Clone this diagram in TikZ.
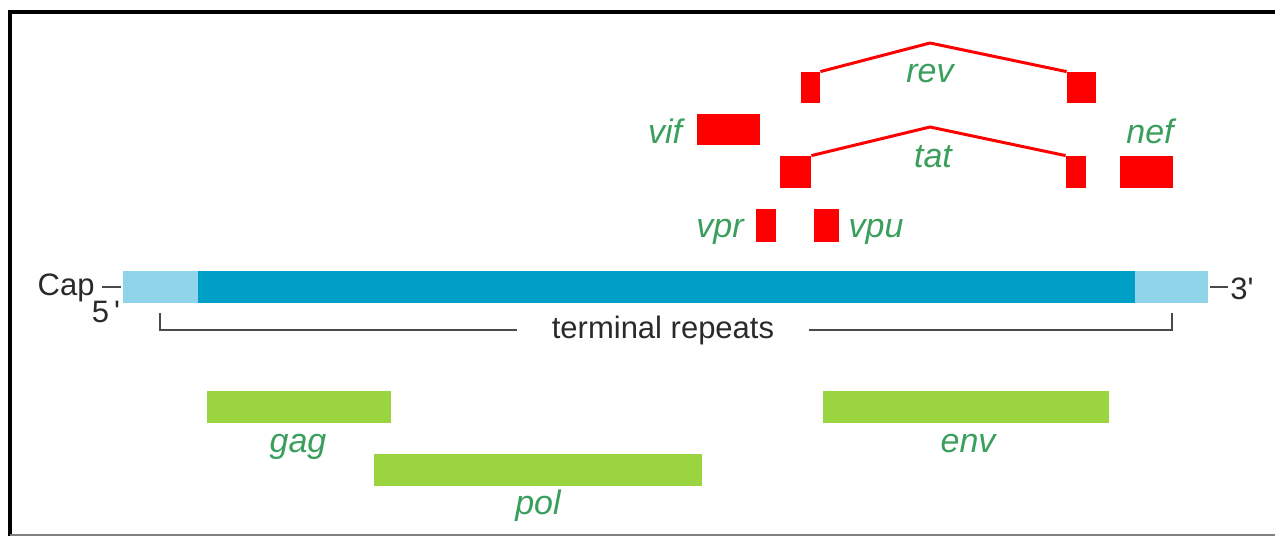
\documentclass[tikz,border=0pt]{standalone}
\usepackage{fontspec}
\setmainfont{Liberation Sans}
\definecolor{exonred}{HTML}{FF0000}
\definecolor{genegreen}{HTML}{9AD43E}
\definecolor{labelgreen}{HTML}{3A9F5C}
\definecolor{rnadark}{HTML}{009FC6}
\definecolor{rnalight}{HTML}{8FD4E8}
\definecolor{inkgray}{HTML}{2A2A2A}
\begin{document}
\begin{tikzpicture}[x=0.5pt, y=-0.5pt, every node/.style={inner sep=0pt},
    exon/.style={rectangle, fill=exonred, minimum height=15.5pt},
    gene/.style={rectangle, fill=genegreen, minimum height=16pt},
    rna/.style={rectangle, minimum height=16pt},
    lbl/.style={anchor=base, text=labelgreen, font=\fontsize{17}{20}\selectfont\itshape},
    txt/.style={text=inkgray, font=\fontsize{15.5}{18}\selectfont},
    bracket/.style={inkgray!85, line width=1.4pt},
    splice/.style={exonred, line width=1.5pt, line join=round}]
    \useasboundingbox (0,0) rectangle (1275,536);
    % frame
    \draw[line width=2pt] (1275,12) -- (10,12) -- (10,536);
    \draw[gray, line width=0.75pt] (10,535) -- (1275,535);

    % viral RNA
    \node[rna, fill=rnalight, minimum width=37.5pt] (ltr5) at (160.5,287) {};
    \node[rna, fill=rnadark, minimum width=468.5pt] (body) at (666.5,287) {};
    \node[rna, fill=rnalight, minimum width=36.5pt] (ltr3) at (1171.5,287) {};
    \node[txt, anchor=base east] (cap) at (95,295) {Cap};
    \node[txt, anchor=base] (five) at (106,322) {5\,\textquotesingle};
    \node[txt, anchor=base west] (three) at (1230,299) {3\textquotesingle};
    \draw[bracket] ([xshift=3.5pt]cap.east |- ltr5.west) -- ([xshift=-1pt]ltr5.west);
    \draw[bracket] ([xshift=1pt]ltr3.east) -- ([xshift=-1pt]three.west |- ltr3.east);

    % terminal repeats
    \coordinate (brL) at (160,313);
    \coordinate (brR) at (1172,313);
    \node[txt, inner xsep=17pt] (trm) at (663,330) {terminal repeats};
    \draw[bracket] (brL) |- (trm.west);
    \draw[bracket] (brR) |- (trm.east);

    % regulatory genes
    \node[exon, minimum width=9.5pt] (revA) at (810.5,87.5) {};
    \node[exon, minimum width=14.5pt] (revB) at (1081.5,87.5) {};
    \coordinate (revTop) at (930,43);
    \draw[splice] (revA.north east) -- (revTop) -- (revB.north west);
    \node[lbl] (rev) at (930,82) {rev};
    \node[exon, minimum width=31.5pt] (vif) at (728.5,129.5) {};
    \node[lbl] (vifL) at (665,143) {vif};
    \node[exon, minimum width=15.5pt, minimum height=16pt] (tatA) at (795.5,172) {};
    \node[exon, minimum width=10pt, minimum height=16pt] (tatB) at (1076,172) {};
    \coordinate (tatTop) at (930,127);
    \draw[splice] (tatA.north east) -- (tatTop) -- (tatB.north west);
    \node[lbl] (tat) at (933,167) {tat};
    \node[exon, minimum width=26.5pt, minimum height=16pt] (nef) at (1146.5,172) {};
    \node[lbl] (nefL) at (1150,143) {nef};
    \node[exon, minimum width=10pt, minimum height=16.5pt] (vpr) at (766,225.5) {};
    \node[lbl] (vprL) at (720,237) {vpr};
    \node[exon, minimum width=12.5pt, minimum height=16.5pt] (vpu) at (826.5,225.5) {};
    \node[lbl] (vpuL) at (876,237) {vpu};

    % structural genes
    \node[gene, minimum width=92pt] (gag) at (299,407) {};
    \node[lbl] (gagL) at (298,452) {gag};
    \node[gene, minimum width=164pt] (pol) at (538,470) {};
    \node[lbl] (polL) at (538,514) {pol};
    \node[gene, minimum width=143pt] (env) at (966,407) {};
    \node[lbl] (envL) at (968,452) {env};
\end{tikzpicture}
\end{document}
